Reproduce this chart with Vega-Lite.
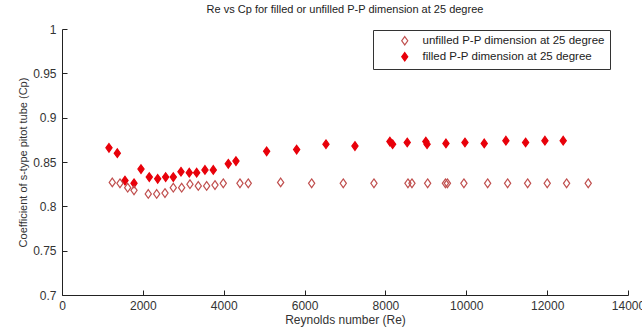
{
  "$schema": "https://vega.github.io/schema/vega-lite/v6.json",
  "width": 566,
  "height": 266,
  "autosize": "none",
  "padding": {"left": 62, "top": 29, "right": 14, "bottom": 34},
  "background": "white",
  "title": {
    "text": "Re vs Cp for filled or unfilled P-P dimension at 25 degree",
    "font": "Liberation Sans",
    "fontSize": 11,
    "fontWeight": "normal",
    "color": "#222",
    "offset": 8
  },
  "config": {
    "view": {"stroke": null},
    "font": "Liberation Sans"
  },
  "data": {
    "values": [
      {"Re": 1162, "Cp": 0.866, "series": "filled P-P dimension at 25 degree"},
      {"Re": 1368, "Cp": 0.860, "series": "filled P-P dimension at 25 degree"},
      {"Re": 1558, "Cp": 0.829, "series": "filled P-P dimension at 25 degree"},
      {"Re": 1781, "Cp": 0.826, "series": "filled P-P dimension at 25 degree"},
      {"Re": 1954, "Cp": 0.842, "series": "filled P-P dimension at 25 degree"},
      {"Re": 2159, "Cp": 0.833, "series": "filled P-P dimension at 25 degree"},
      {"Re": 2367, "Cp": 0.831, "series": "filled P-P dimension at 25 degree"},
      {"Re": 2564, "Cp": 0.833, "series": "filled P-P dimension at 25 degree"},
      {"Re": 2753, "Cp": 0.833, "series": "filled P-P dimension at 25 degree"},
      {"Re": 2943, "Cp": 0.839, "series": "filled P-P dimension at 25 degree"},
      {"Re": 3148, "Cp": 0.838, "series": "filled P-P dimension at 25 degree"},
      {"Re": 3331, "Cp": 0.838, "series": "filled P-P dimension at 25 degree"},
      {"Re": 3536, "Cp": 0.841, "series": "filled P-P dimension at 25 degree"},
      {"Re": 3742, "Cp": 0.841, "series": "filled P-P dimension at 25 degree"},
      {"Re": 4113, "Cp": 0.848, "series": "filled P-P dimension at 25 degree"},
      {"Re": 4303, "Cp": 0.851, "series": "filled P-P dimension at 25 degree"},
      {"Re": 5062, "Cp": 0.862, "series": "filled P-P dimension at 25 degree"},
      {"Re": 5804, "Cp": 0.864, "series": "filled P-P dimension at 25 degree"},
      {"Re": 6529, "Cp": 0.870, "series": "filled P-P dimension at 25 degree"},
      {"Re": 7246, "Cp": 0.868, "series": "filled P-P dimension at 25 degree"},
      {"Re": 8111, "Cp": 0.873, "series": "filled P-P dimension at 25 degree"},
      {"Re": 8178, "Cp": 0.870, "series": "filled P-P dimension at 25 degree"},
      {"Re": 8539, "Cp": 0.872, "series": "filled P-P dimension at 25 degree"},
      {"Re": 9000, "Cp": 0.873, "series": "filled P-P dimension at 25 degree"},
      {"Re": 9030, "Cp": 0.870, "series": "filled P-P dimension at 25 degree"},
      {"Re": 9497, "Cp": 0.871, "series": "filled P-P dimension at 25 degree"},
      {"Re": 9967, "Cp": 0.872, "series": "filled P-P dimension at 25 degree"},
      {"Re": 10444, "Cp": 0.871, "series": "filled P-P dimension at 25 degree"},
      {"Re": 10980, "Cp": 0.874, "series": "filled P-P dimension at 25 degree"},
      {"Re": 11467, "Cp": 0.872, "series": "filled P-P dimension at 25 degree"},
      {"Re": 11945, "Cp": 0.874, "series": "filled P-P dimension at 25 degree"},
      {"Re": 12397, "Cp": 0.874, "series": "filled P-P dimension at 25 degree"},
      {"Re": 1244, "Cp": 0.827, "series": "unfilled P-P dimension at 25 degree"},
      {"Re": 1434, "Cp": 0.826, "series": "unfilled P-P dimension at 25 degree"},
      {"Re": 1625, "Cp": 0.821, "series": "unfilled P-P dimension at 25 degree"},
      {"Re": 1781, "Cp": 0.818, "series": "unfilled P-P dimension at 25 degree"},
      {"Re": 2134, "Cp": 0.814, "series": "unfilled P-P dimension at 25 degree"},
      {"Re": 2342, "Cp": 0.814, "series": "unfilled P-P dimension at 25 degree"},
      {"Re": 2547, "Cp": 0.815, "series": "unfilled P-P dimension at 25 degree"},
      {"Re": 2753, "Cp": 0.821, "series": "unfilled P-P dimension at 25 degree"},
      {"Re": 2960, "Cp": 0.821, "series": "unfilled P-P dimension at 25 degree"},
      {"Re": 3165, "Cp": 0.825, "series": "unfilled P-P dimension at 25 degree"},
      {"Re": 3371, "Cp": 0.823, "series": "unfilled P-P dimension at 25 degree"},
      {"Re": 3578, "Cp": 0.823, "series": "unfilled P-P dimension at 25 degree"},
      {"Re": 3784, "Cp": 0.824, "series": "unfilled P-P dimension at 25 degree"},
      {"Re": 3989, "Cp": 0.826, "series": "unfilled P-P dimension at 25 degree"},
      {"Re": 4402, "Cp": 0.826, "series": "unfilled P-P dimension at 25 degree"},
      {"Re": 4607, "Cp": 0.826, "series": "unfilled P-P dimension at 25 degree"},
      {"Re": 5408, "Cp": 0.827, "series": "unfilled P-P dimension at 25 degree"},
      {"Re": 6175, "Cp": 0.826, "series": "unfilled P-P dimension at 25 degree"},
      {"Re": 6957, "Cp": 0.826, "series": "unfilled P-P dimension at 25 degree"},
      {"Re": 7716, "Cp": 0.826, "series": "unfilled P-P dimension at 25 degree"},
      {"Re": 8557, "Cp": 0.826, "series": "unfilled P-P dimension at 25 degree"},
      {"Re": 8656, "Cp": 0.826, "series": "unfilled P-P dimension at 25 degree"},
      {"Re": 9044, "Cp": 0.826, "series": "unfilled P-P dimension at 25 degree"},
      {"Re": 9484, "Cp": 0.826, "series": "unfilled P-P dimension at 25 degree"},
      {"Re": 9533, "Cp": 0.826, "series": "unfilled P-P dimension at 25 degree"},
      {"Re": 9941, "Cp": 0.826, "series": "unfilled P-P dimension at 25 degree"},
      {"Re": 10528, "Cp": 0.826, "series": "unfilled P-P dimension at 25 degree"},
      {"Re": 11022, "Cp": 0.826, "series": "unfilled P-P dimension at 25 degree"},
      {"Re": 11517, "Cp": 0.826, "series": "unfilled P-P dimension at 25 degree"},
      {"Re": 12002, "Cp": 0.826, "series": "unfilled P-P dimension at 25 degree"},
      {"Re": 12481, "Cp": 0.826, "series": "unfilled P-P dimension at 25 degree"},
      {"Re": 13016, "Cp": 0.826, "series": "unfilled P-P dimension at 25 degree"}
    ]
  },
  "mark": {
    "type": "point",
    "shape": "M0,-1L0.72,0L0,1L-0.72,0Z",
    "size": 75,
    "strokeWidth": 1.2,
    "opacity": 1,
    "clip": false
  },
  "encoding": {
    "x": {
      "field": "Re",
      "type": "quantitative",
      "scale": {"domain": [0, 14000], "nice": false, "zero": false},
      "axis": {
        "title": "Reynolds number (Re)",
        "values": [0, 2000, 4000, 6000, 8000, 10000, 12000, 14000],
        "format": "d",
        "grid": false,
        "tickSize": -5,
        "tickWidth": 1,
        "labelPadding": 10,
        "domainColor": "#222",
        "tickColor": "#222",
        "labelColor": "#333",
        "titleColor": "#333",
        "labelFont": "Liberation Sans",
        "titleFont": "Liberation Sans",
        "labelFontSize": 12,
        "titleFontSize": 12,
        "titleFontWeight": "normal",
        "titlePadding": 3,
        "labelFlush": false,
        "labelOverlap": false
      }
    },
    "y": {
      "field": "Cp",
      "type": "quantitative",
      "scale": {"domain": [0.7, 1], "nice": false, "zero": false},
      "axis": {
        "title": "Coefficient of s-type pitot tube (Cp)",
        "values": [0.7, 0.75, 0.8, 0.85, 0.9, 0.95, 1],
        "format": ".2~f",
        "grid": false,
        "tickSize": -5,
        "tickWidth": 1,
        "labelPadding": 11,
        "domainColor": "#222",
        "tickColor": "#222",
        "labelColor": "#333",
        "titleColor": "#333",
        "labelFont": "Liberation Sans",
        "titleFont": "Liberation Sans",
        "labelFontSize": 12,
        "titleFontSize": 11,
        "titleFontWeight": "normal",
        "titlePadding": 4,
        "labelFlush": false,
        "labelOverlap": false
      }
    },
    "stroke": {
      "field": "series",
      "type": "nominal",
      "scale": {
        "domain": ["unfilled P-P dimension at 25 degree", "filled P-P dimension at 25 degree"],
        "range": ["#c0504f", "#e8000a"]
      },
      "legend": {
        "title": null,
        "orient": "none",
        "legendX": 311,
        "legendY": 1,
        "fillColor": "white",
        "strokeColor": "#333",
        "padding": 5,
        "labelFont": "Liberation Sans",
        "labelFontSize": 11.5,
        "labelColor": "#222",
        "labelLimit": 0,
        "symbolSize": 70,
        "symbolStrokeWidth": 1.2,
        "rowPadding": 2,
        "labelOffset": 12,
        "symbolOffset": 21
      }
    },
    "fill": {
      "field": "series",
      "type": "nominal",
      "scale": {
        "domain": ["unfilled P-P dimension at 25 degree", "filled P-P dimension at 25 degree"],
        "range": ["transparent", "#e8000a"]
      },
      "legend": {
        "title": null,
        "orient": "none",
        "legendX": 311,
        "legendY": 1,
        "fillColor": "white",
        "strokeColor": "#333",
        "padding": 5,
        "labelFont": "Liberation Sans",
        "labelFontSize": 11.5,
        "labelColor": "#222",
        "labelLimit": 0,
        "symbolSize": 70,
        "symbolStrokeWidth": 1.2,
        "rowPadding": 2,
        "labelOffset": 12,
        "symbolOffset": 21
      }
    }
  }
}
